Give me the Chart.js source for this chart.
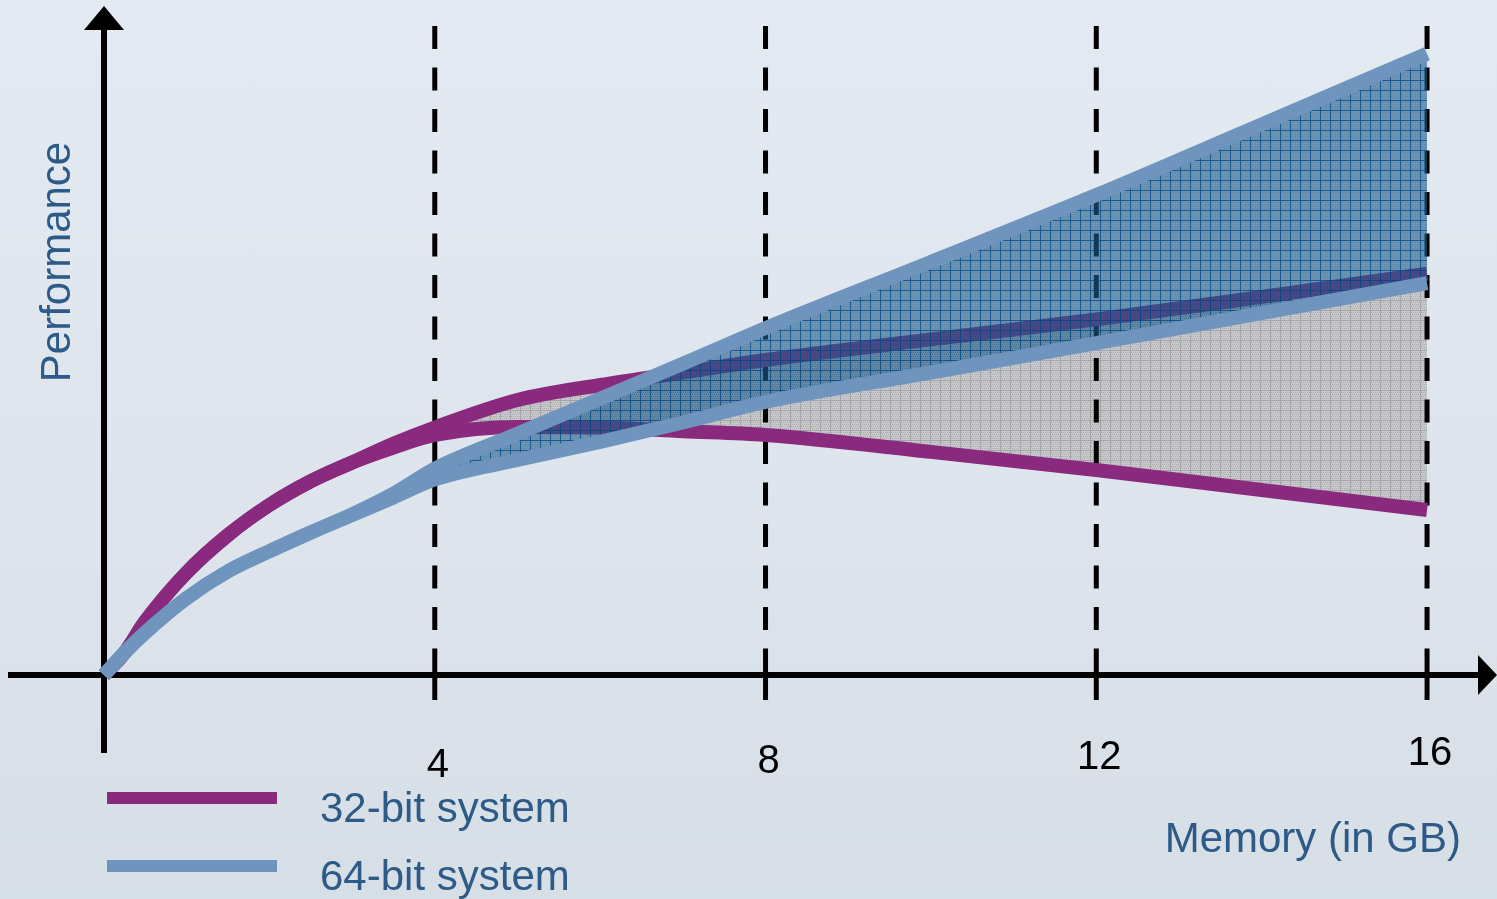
<!DOCTYPE html>
<html>
<head>
<meta charset="utf-8">
<title>Performance vs memory</title>
<script src="https://cdn.jsdelivr.net/npm/chart.js@4.4.1/dist/chart.umd.min.js"></script>
<style>
  html, body { margin: 0; padding: 0; overflow: hidden; }
  body { background: linear-gradient(180deg, #e3eaf1 0%, #dde4eb 60%, #d6dee6 100%); }
  #wrap { position: relative; width: 1497px; height: 899px; }
</style>
</head>
<body>
<div id="wrap"><canvas id="perfChart"></canvas></div>
<script>
// memory in GB, performance in arbitrary units
const memoryGB   = [0, 0.25, 0.5, 1, 1.5, 2, 2.5, 3, 3.5, 4, 5, 6, 7, 8, 10, 12, 14, 16];
const perf32High = [0, 3.6, 8.6, 16.4, 22.4, 27.2, 31.0, 34.0, 37.0, 39.6, 44.0, 46.4, 48.4, 50.4, 53.7, 56.9, 60.5, 64.2];
const perf32Low  = [0, 3.6, 8.6, 16.4, 22.4, 27.2, 31.0, 34.0, 36.4, 38.4, 39.7, 39.6, 39.0, 38.4, 35.7, 32.8, 29.6, 26.4];
const perf64High = [0, 3.6, 6.8, 12.3, 16.6, 19.8, 22.8, 25.7, 29.0, 33.0, 38.6, 44.2, 49.8, 55.5, 66.1, 76.8, 88.1, 99.4];
const perf64Low  = [0, 3.6, 6.8, 12.3, 16.6, 19.8, 22.8, 25.6, 28.4, 31.3, 34.4, 37.3, 40.4, 43.7, 48.4, 53.1, 57.9, 62.7];

const tickValues = [4, 8, 12, 16];
const seriesLabels = ['32-bit system', '64-bit system'];
const xTitle = 'Memory (in GB)';
const yTitle = 'Performance';

const purple = '#8a2a7e';
const blue = '#6f95bf';
const textBlue = '#2d5a87';
const font = '"Liberation Sans", Arial, sans-serif';

function makePattern(base, dots, line, size) {
    const c = document.createElement('canvas');
    c.width = size;
    c.height = size;
    const g = c.getContext('2d');
    g.fillStyle = base;
    g.fillRect(0, 0, size, size);
    g.fillStyle = dots;
    for (let y = 0; y < size; y += 2) {
        for (let x = (y / 2) % 2; x < size; x += 2) {
            g.fillRect(x, y, 1, 1);
        }
    }
    g.fillStyle = line;
    g.fillRect(0, 0, size, 1);
    g.fillRect(0, 1, 1, size - 1);
    return g.createPattern(c, 'repeat');
}

const grayPattern = makePattern('#c8c9cb', 'rgba(140,140,145,0.45)', '#a3a4a7', 10);
const bluePattern = makePattern('rgba(30,95,140,0.6)', 'rgba(0,50,100,0.15)', 'rgba(0,70,130,0.75)', 10);

function points(values) {
    return memoryGB.map((x, i) => ({ x: x, y: values[i] }));
}

const lineStyle = {
    borderWidth: 14,
    pointRadius: 0,
    pointHoverRadius: 0,
    cubicInterpolationMode: 'monotone',
    borderCapStyle: 'butt',
    borderJoinStyle: 'round'
};

// axes, dashed guides, labels and legend drawn through the chart's scales
const decorations = {
    id: 'decorations',
    beforeDatasetsDraw(chart) {
        const ctx = chart.ctx;
        const x0 = chart.scales.x.getPixelForValue(0);
        const y0 = chart.scales.y.getPixelForValue(0);
        ctx.save();
        ctx.fillStyle = '#000';
        ctx.strokeStyle = '#000';
        ctx.lineWidth = 6;
        // x axis with arrow
        ctx.beginPath();
        ctx.moveTo(8, y0);
        ctx.lineTo(1482, y0);
        ctx.stroke();
        ctx.beginPath();
        ctx.moveTo(1497, y0);
        ctx.lineTo(1478, y0 - 20);
        ctx.lineTo(1478, y0 + 20);
        ctx.closePath();
        ctx.fill();
        // y axis with arrow
        ctx.beginPath();
        ctx.moveTo(x0, 753);
        ctx.lineTo(x0, 26);
        ctx.stroke();
        ctx.beginPath();
        ctx.moveTo(x0, 6);
        ctx.lineTo(x0 - 20, 30);
        ctx.lineTo(x0 + 20, 30);
        ctx.closePath();
        ctx.fill();
        ctx.restore();
    },
    beforeDatasetDraw(chart, args) {
        if (args.index !== 0) return;
        const ctx = chart.ctx;
        const y0 = chart.scales.y.getPixelForValue(0);
        ctx.save();
        ctx.strokeStyle = '#000';
        ctx.lineWidth = 5;
        tickValues.forEach(v => {
            const px = chart.scales.x.getPixelForValue(v);
            ctx.setLineDash([23, 18.5]);
            ctx.beginPath();
            ctx.moveTo(px, 26);
            ctx.lineTo(px, y0 - 20);
            ctx.stroke();
            ctx.setLineDash([]);
            ctx.beginPath();
            ctx.moveTo(px, y0 - 20);
            ctx.lineTo(px, 700);
            ctx.stroke();
        });
        ctx.restore();
    },
    afterDraw(chart) {
        const ctx = chart.ctx;
        ctx.save();
        ctx.font = '40px ' + font;
        ctx.fillStyle = '#000';
        ctx.textAlign = 'center';
        ctx.textBaseline = 'alphabetic';
        tickValues.forEach(v => {
            ctx.fillText(String(v), chart.scales.x.getPixelForValue(v) + 3, 781 - v);
        });

        ctx.font = '42px ' + font;
        ctx.fillStyle = textBlue;
        ctx.textAlign = 'right';
        ctx.fillText(xTitle, 1461, 852);

        ctx.save();
        ctx.translate(70, 262);
        ctx.rotate(-Math.PI / 2);
        ctx.textAlign = 'center';
        ctx.fillText(yTitle, 0, 0);
        ctx.restore();

        // legend
        const legendColors = [purple, blue];
        ctx.textAlign = 'left';
        seriesLabels.forEach((label, i) => {
            const y = 798 + i * 68;
            ctx.strokeStyle = legendColors[i];
            ctx.lineWidth = 12;
            ctx.beginPath();
            ctx.moveTo(107, y);
            ctx.lineTo(277, y);
            ctx.stroke();
            ctx.fillStyle = textBlue;
            ctx.fillText(label, 320, y + 24);
        });
        ctx.restore();
    }
};

const ctx = document.getElementById('perfChart').getContext('2d');
const perfChart = new Chart(ctx, {
    type: 'line',
    data: {
        datasets: [
            Object.assign({ label: seriesLabels[0], data: points(perf32High), borderColor: purple,
                fill: '+1', backgroundColor: grayPattern, order: 4 }, lineStyle),
            Object.assign({ label: seriesLabels[0], data: points(perf32Low), borderColor: purple,
                fill: false, order: 3 }, lineStyle),
            Object.assign({ label: seriesLabels[1], data: points(perf64High), borderColor: blue,
                fill: '+1', backgroundColor: bluePattern, order: 2 }, lineStyle),
            Object.assign({ label: seriesLabels[1], data: points(perf64Low), borderColor: blue,
                fill: false, order: 1 }, lineStyle)
        ]
    },
    options: {
        responsive: true,
        maintainAspectRatio: false,
        animation: false,
        devicePixelRatio: 1,
        layout: { padding: 0 },
        events: [],
        scales: {
            x: { type: 'linear', display: false, bounds: 'data', min: -1.258, max: 16.846 },
            y: { type: 'linear', display: false, bounds: 'data', min: -35.84, max: 108 }
        },
        plugins: {
            legend: { display: false },
            tooltip: { enabled: false },
            filler: { propagate: false }
        }
    },
    plugins: [decorations]
});
</script>
</body>
</html>
